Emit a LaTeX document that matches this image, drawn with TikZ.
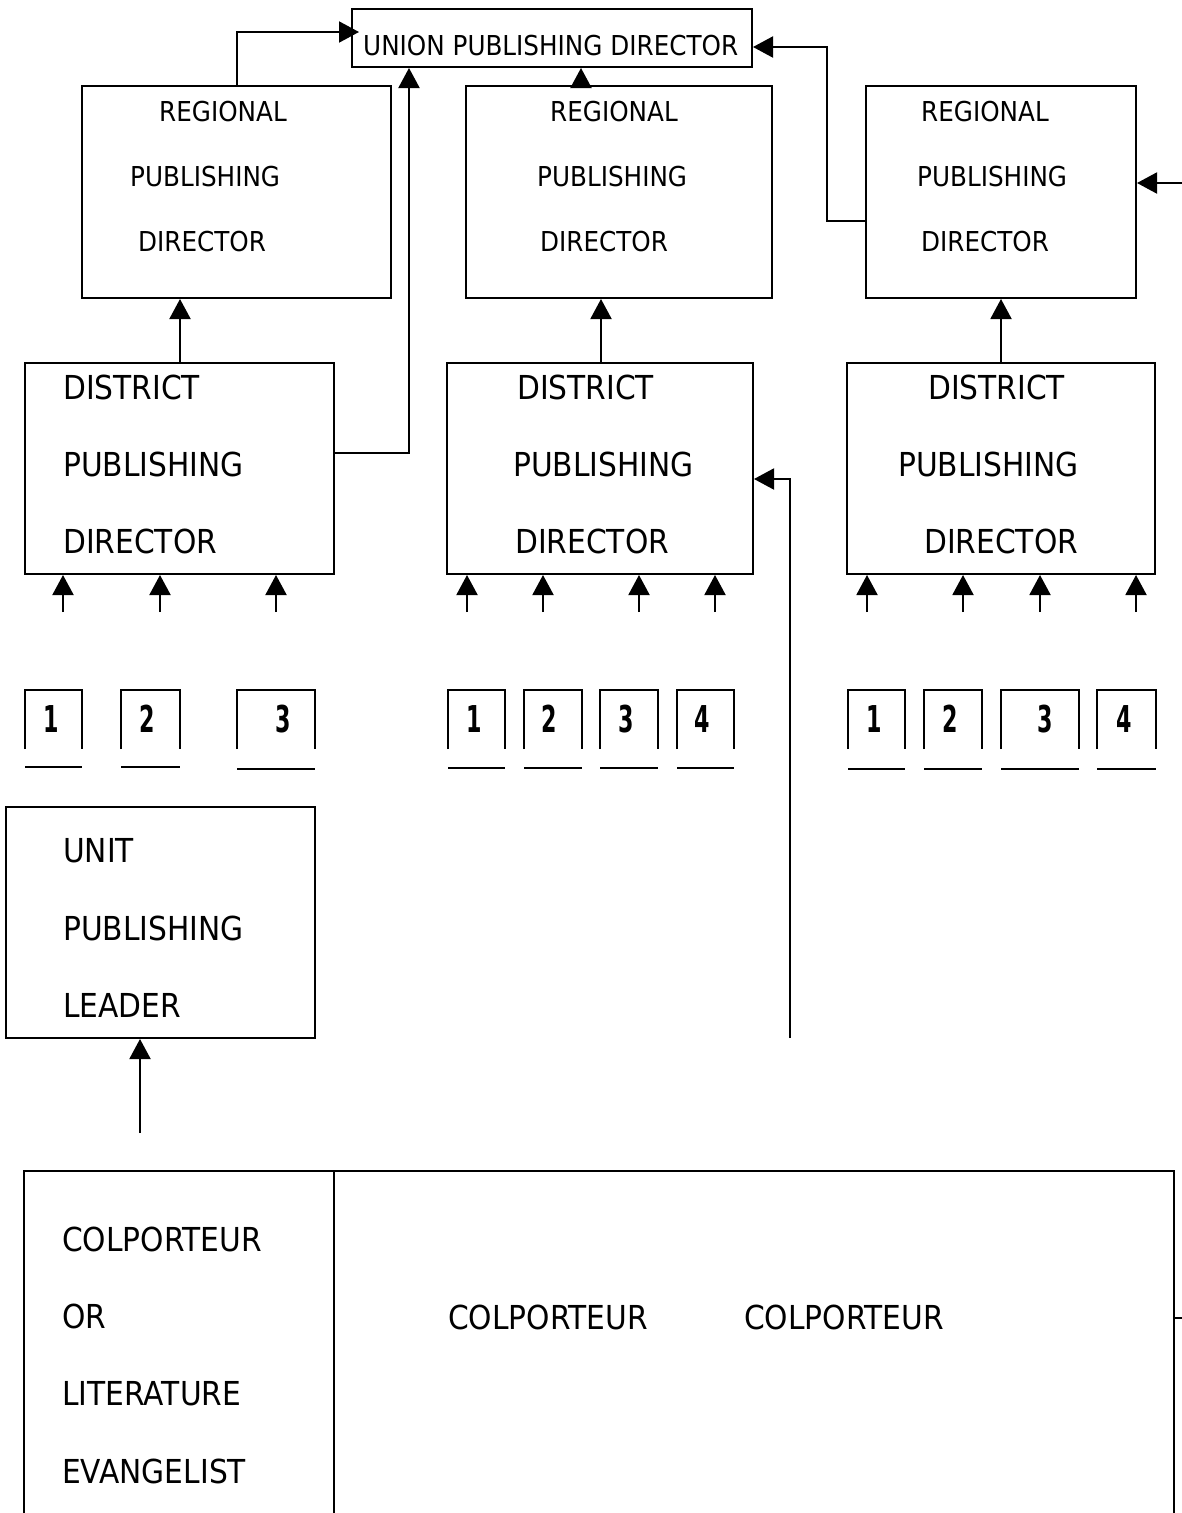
\documentclass[tikz,border=0pt]{standalone}
\usepackage{fontspec}
\setmainfont{DejaVu Sans}[FakeStretch=0.9]
\newfontfamily\numfont{DejaVu Sans}[FakeStretch=0.6]
\usetikzlibrary{arrows.meta}
\tikzset{
  box/.style={draw, line width=2pt, inner sep=0, rectangle},
  conn/.style={line width=2pt},
  arr/.style={conn, -{Triangle[length=20pt,width=21pt]}},
  rtxt/.style={font=\fontsize{27.4}{27.4}\selectfont, inner sep=0, anchor=west},
  dtxt/.style={font=\fontsize{33}{33}\selectfont, inner sep=0, anchor=west},
  num/.style={font=\numfont\fontsize{37}{37}\selectfont\bfseries, inner sep=0},
  nline/.style={line width=2pt},
}
\newcommand{\numbox}[6]{% name, x1, x2, label, textx, underline y
  \node[num] (#1) at (#5,719) {#4};
  \draw[nline] (#2,749) -- (#2,690) -- (#3,690) -- (#3,749);
  \draw[nline] (#2,#6) -- (#3,#6);
}
\begin{document}
\begin{tikzpicture}[x=1pt,y=-1pt]
\useasboundingbox (0,0) rectangle (1182,1513);
\clip (0,0) rectangle (1182,1513);
\fill[white] (0,0) rectangle (1182,1513);

% boxes
\node[box, minimum width=400pt, minimum height=58pt] (union) at (552,38) {};
\node[rtxt] (tunion) at (363,46) {UNION PUBLISHING DIRECTOR};

\node[box, minimum width=309pt, minimum height=212pt] (R1) at (236.5,192) {};
\node[box, minimum width=306pt, minimum height=212pt] (R2) at (619,192) {};
\node[box, minimum width=270pt, minimum height=212pt] (R3) at (1001,192) {};

\node[rtxt] (r1a) at (159,112) {REGIONAL};
\node[rtxt] (r1b) at (130,177) {PUBLISHING};
\node[rtxt] (r1c) at (138,242) {DIRECTOR};
\node[rtxt] (r2a) at (550,112) {REGIONAL};
\node[rtxt] (r2b) at (537,177) {PUBLISHING};
\node[rtxt] (r2c) at (540,242) {DIRECTOR};
\node[rtxt] (r3a) at (921,112) {REGIONAL};
\node[rtxt] (r3b) at (917,177) {PUBLISHING};
\node[rtxt] (r3c) at (921,242) {DIRECTOR};

\node[box, minimum width=309pt, minimum height=211pt] (D1) at (179.5,468.5) {};
\node[box, minimum width=306pt, minimum height=211pt] (D2) at (600,468.5) {};
\node[box, minimum width=308pt, minimum height=211pt] (D3) at (1001,468.5) {};

\node[dtxt] (d1a) at (63,387) {DISTRICT};
\node[dtxt] (d1b) at (63,464) {PUBLISHING};
\node[dtxt] (d1c) at (63,541) {DIRECTOR};
\node[dtxt] (d2a) at (517,387) {DISTRICT};
\node[dtxt] (d2b) at (513,464) {PUBLISHING};
\node[dtxt] (d2c) at (515,541) {DIRECTOR};
\node[dtxt] (d3a) at (928,387) {DISTRICT};
\node[dtxt] (d3b) at (898,464) {PUBLISHING};
\node[dtxt] (d3c) at (924,541) {DIRECTOR};

\node[box, minimum width=309pt, minimum height=231pt] (unit) at (160.5,922.5) {};
\node[dtxt] (ua) at (63,851) {UNIT};
\node[dtxt] (ub) at (63,928) {PUBLISHING};
\node[dtxt] (uc) at (63,1005) {LEADER};

% bottom box (open at the bottom edge of the page)
\node[box, minimum width=1150pt, minimum height=369pt] (bot) at (599,1355.5) {};
\draw[conn] (334,1171) -- (334,1513);
\draw[conn] (bot.east |- 0,1318) -- (1182,1318);
\node[dtxt] (ba) at (62,1239) {COLPORTEUR};
\node[dtxt] (bb) at (62,1316) {OR};
\node[dtxt] (bc) at (62,1394) {LITERATURE};
\node[dtxt] (bd) at (62,1471) {EVANGELIST};
\node[dtxt] (bm1) at (448,1317) {COLPORTEUR};
\node[dtxt] (bm2) at (744,1317) {COLPORTEUR};

% number boxes
\numbox{n11}{25}{82}{1}{51}{767}
\numbox{n12}{121}{180}{2}{147}{767}
\numbox{n13}{237}{315}{3}{283}{769}
\numbox{n21}{448}{505}{1}{474}{768}
\numbox{n22}{524}{582}{2}{549}{768}
\numbox{n23}{600}{658}{3}{626}{768}
\numbox{n24}{677}{734}{4}{702}{768}
\numbox{n31}{848}{905}{1}{874}{769}
\numbox{n32}{924}{982}{2}{950}{769}
\numbox{n33}{1001}{1079}{3}{1045}{769}
\numbox{n34}{1097}{1156}{4}{1124}{769}

% connectors to union
\draw[arr] (R1.north) |- ([shift={(8,-6)}]union.west);
\draw[arr] (D1.east |- 0,453) -| (union.south -| 409,0);
\draw[arr] (R2.north -| 581,0) -- (union.south -| 581,0);
\draw[arr] (R3.west |- 0,221) -- (827,221) |- (union.east |- 0,47);
\coordinate (redge) at (1182,183);
\draw[arr] (redge) -- (R3.east |- redge);

% district to regional
\draw[arr] (D1.north -| 180,0) -- (R1.south -| 180,0);
\draw[arr] (D2.north -| 601,0) -- (R2.south -| 601,0);
\draw[arr] (D3.north -| 1001,0) -- (R3.south -| 1001,0);

% small arrows under districts
\foreach \x in {63,160,276} {\coordinate (t) at (\x,612); \draw[arr] (t) -- (D1.south -| t);}
\foreach \x in {467,543,639,715} {\coordinate (t) at (\x,612); \draw[arr] (t) -- (D2.south -| t);}
\foreach \x in {867,963,1040,1136} {\coordinate (t) at (\x,612); \draw[arr] (t) -- (D3.south -| t);}

% long line into district 2
\coordinate (lb) at (790,1038);
\draw[arr] (lb) |- (D2.east |- 0,479);

% unit arrow
\coordinate (ut) at (140,1133);
\draw[arr] (ut) -- (unit.south -| ut);
\end{tikzpicture}
\end{document}
